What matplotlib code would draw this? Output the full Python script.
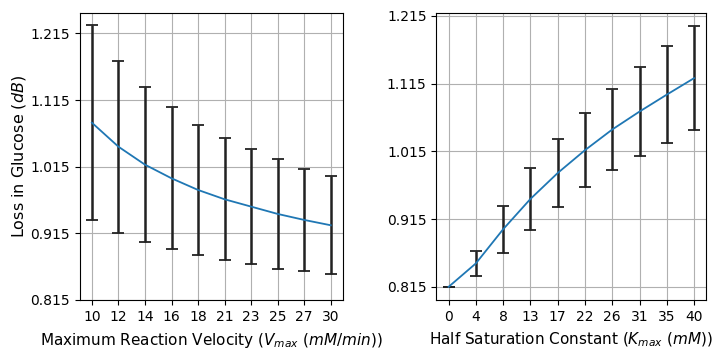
import numpy as np
import matplotlib
matplotlib.use("Agg")
import matplotlib.pyplot as plt

# Left panel: Vmax sweep
vmax = np.linspace(10, 30, 10)
vmax_labels = ["10", "12", "14", "16", "18", "21", "23", "25", "27", "30"]
loss_vmax = [1.081, 1.045, 1.018, 0.9975, 0.980, 0.966, 0.955, 0.944, 0.935, 0.927]
err_vmax = [0.146, 0.129, 0.116, 0.1065, 0.098, 0.0915, 0.086, 0.082, 0.077, 0.0735]

# Right panel: Kmax sweep
kmax = np.linspace(0, 40, 10)
kmax_labels = ["0", "4", "8", "13", "17", "22", "26", "31", "35", "40"]
loss_kmax = [0.815, 0.8496, 0.900, 0.9447, 0.983, 1.0167, 1.0472, 1.0737, 1.0987, 1.123]
err_kmax = [0.0, 0.0184, 0.035, 0.0457, 0.050, 0.0543, 0.0597, 0.0656, 0.0715, 0.077]

yticks = [0.815, 0.915, 1.015, 1.115, 1.215]
ytick_labels = ["0.815", "0.915", "1.015", "1.115", "1.215"]

fig = plt.figure(figsize=(7.2, 3.6), dpi=100)
ax1 = fig.add_axes([0.111, 0.167, 0.365, 0.797])
ax2 = fig.add_axes([0.606, 0.167, 0.375, 0.797])

ebkw = dict(fmt="none", ecolor="#222222", elinewidth=1.8, capsize=4.5, capthick=1.3, zorder=2)

ax1.errorbar(vmax, loss_vmax, yerr=err_vmax, **ebkw)
ax1.plot(vmax, loss_vmax, color="C0", lw=1.3, zorder=3)
ax1.set_xticks(vmax)
ax1.set_xticklabels(vmax_labels)
ax1.set_yticks(yticks)
ax1.set_yticklabels(ytick_labels)
ax1.set_ylim(0.815, 1.2457)
ax1.grid(True, color="#b0b0b0", lw=0.8)
ax1.set_axisbelow(True)
ax1.set_xlabel("Maximum Reaction Velocity ($V_{max}$ ($mM/min$))", fontsize=11, labelpad=5)
ax1.set_ylabel("Loss in Glucose ($dB$)", fontsize=11.5, labelpad=2)

ax2.errorbar(kmax, loss_kmax, yerr=err_kmax, **ebkw)
ax2.plot(kmax, loss_kmax, color="C0", lw=1.3, zorder=3)
ax2.set_xticks(kmax)
ax2.set_xticklabels(kmax_labels)
ax2.set_yticks(yticks)
ax2.set_yticklabels(ytick_labels)
ax2.grid(True, color="#b0b0b0", lw=0.8)
ax2.set_axisbelow(True)
ax2.set_xlabel("Half Saturation Constant ($K_{max}$ ($mM$))", fontsize=11, labelpad=5)

for ax in (ax1, ax2):
    ax.tick_params(labelsize=10)

fig.savefig("out.png", dpi=100)
